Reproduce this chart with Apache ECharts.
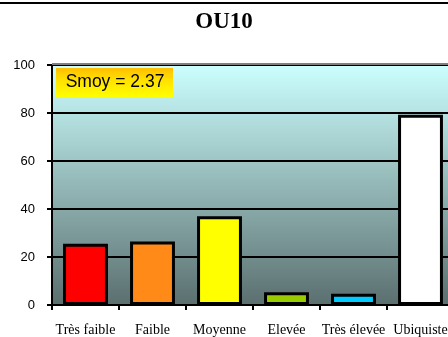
<!DOCTYPE html>
<html>
<head>
<meta charset="utf-8">
<script src="https://cdn.jsdelivr.net/npm/echarts@6/dist/echarts.min.js"></script>
<style>
  html, body { margin: 0; padding: 0; background: #ffffff; overflow: hidden; width: 448px; height: 337px; }
  /* la zone de tracé déborde légèrement à droite de la fenêtre */
  #chart { width: 460px; height: 337px; }
</style>
</head>
<body>
<div id="chart"></div>
<script>
// Classes de sensibilité et pourcentages de la station OU10
const categories = ['Très faible', 'Faible', 'Moyenne', 'Elevée', 'Très élevée', 'Ubiquiste'];
const values = [25.5, 26.5, 37, 5.3, 4.7, 79.3];
const barColors = ['#ff0000', '#ff8a18', '#ffff00', '#99cc00', '#00ccff', '#ffffff'];
const yTicks = [0, 20, 40, 60, 80, 100];
const titleText = 'OU10';
const noteText = 'Smoy = 2.37';

const chart = echarts.init(document.getElementById('chart'), null, { renderer: 'canvas' });

chart.setOption({
  animation: false,
  backgroundColor: '#ffffff',
  grid: {
    left: 52, top: 65, bottom: 32, right: 6,
    show: true,
    borderWidth: 0,
    backgroundColor: {
      type: 'linear', x: 0, y: 0, x2: 0, y2: 1,
      colorStops: [
        { offset: 0, color: '#ccffff' },
        { offset: 1, color: '#5b6f6f' }
      ]
    }
  },
  graphic: [
    // titre centré sur la fenêtre visible
    {
      type: 'text', x: 224, y: 22, z: 20,
      style: { text: titleText, fontFamily: 'Liberation Serif', fontWeight: 'bold', fontSize: 23, fill: '#000000', align: 'center', verticalAlign: 'middle' }
    },
    // trait noir en haut de la figure
    { type: 'rect', left: 0, top: 2, shape: { width: 460, height: 2 }, style: { fill: '#000000' }, z: 10 },
    // bordure supérieure grise de la zone de tracé
    { type: 'rect', left: 52, top: 63, shape: { width: 402, height: 2 }, style: { fill: '#808080' }, z: 10 },
    {
      type: 'group', left: 56, top: 68, z: 20,
      children: [
        {
          type: 'rect', shape: { x: 0, y: 0, width: 117, height: 29 },
          style: {
            fill: {
              type: 'linear', x: 0, y: 0, x2: 0, y2: 1,
              colorStops: [{ offset: 0, color: '#ffbf00' }, { offset: 0.4, color: '#ffe000' }, { offset: 1, color: '#ffff00' }]
            }
          }
        },
        {
          type: 'text', x: 59, y: 14.5,
          style: { text: noteText, fontFamily: 'Liberation Sans', fontSize: 17.5, fill: '#000000', align: 'center', verticalAlign: 'middle' }
        }
      ]
    }
  ],
  xAxis: {
    type: 'category',
    data: categories,
    axisLine: { lineStyle: { color: '#000000', width: 2 } },
    axisTick: { show: true, length: 5, lineStyle: { color: '#000000', width: 2 } },
    axisLabel: { margin: 18, fontFamily: 'Liberation Serif', fontSize: 14, color: '#000000', interval: 0 }
  },
  yAxis: {
    type: 'value',
    min: 0, max: 100, interval: 20,
    axisLine: { show: true, lineStyle: { color: '#000000', width: 2 } },
    axisTick: { show: true, length: 5, lineStyle: { color: '#000000', width: 2 } },
    axisLabel: {
      margin: 17, fontFamily: 'Liberation Sans', fontSize: 13, color: '#000000',
      formatter: v => (yTicks.indexOf(v) >= 0 ? String(v) : '')
    },
    splitLine: { show: true, lineStyle: { color: '#000000', width: 2 } }
  },
  series: [{
    type: 'bar',
    data: values.map((v, i) => ({ value: v, itemStyle: { color: barColors[i] } })),
    barWidth: '67%',
    itemStyle: { borderColor: '#000000', borderWidth: 3 },
    z: 5
  }]
});
</script>
</body>
</html>
